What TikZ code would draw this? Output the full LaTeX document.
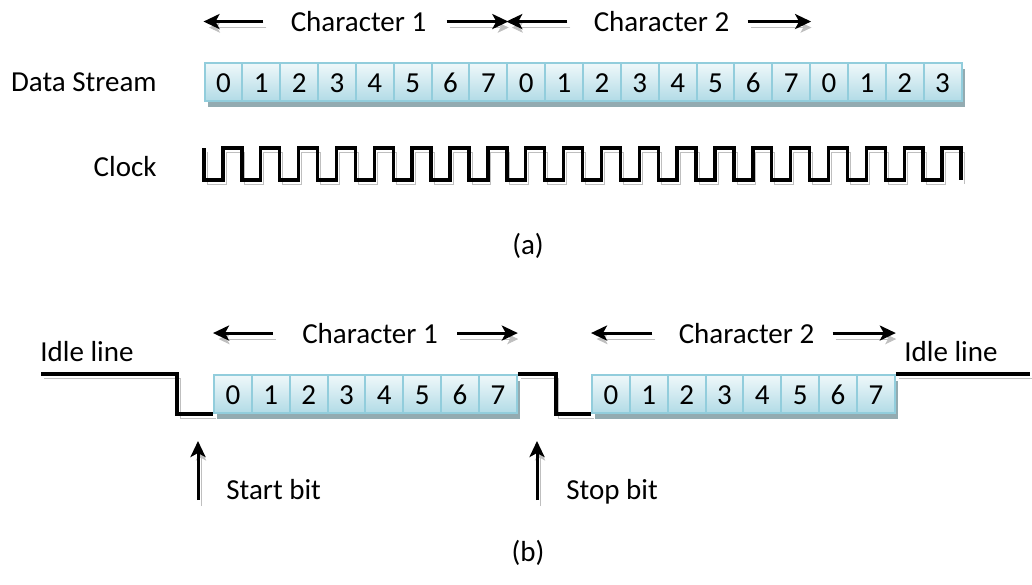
\documentclass[tikz,border=0pt]{standalone}
\usepackage{fontspec}
\setmainfont{Carlito}
\usepackage{tikz}
\usetikzlibrary{
  arrows.meta,
  positioning,
  shadows,
  calc
}
\definecolor{boxline}{HTML}{92CDDC}
\definecolor{boxtop}{HTML}{EFF8FA}
\definecolor{boxbot}{HTML}{B2DBE6}
\definecolor{boxshade}{HTML}{93ABB1}
\definecolor{waveshade}{HTML}{BFBFBF}
\newcommand\figfont{\fontsize{14.5}{17}\selectfont}
\tikzset{
  bitbox/.style={
    rectangle, draw=boxline, line width=1pt,
    top color=boxtop, bottom color=boxbot,
    minimum width=18.925pt, minimum height=19pt, inner sep=0pt,
    text height=10.9pt, text depth=0pt, anchor=north west,
    drop shadow={shadow xshift=1.5pt, shadow yshift=-3pt, fill=boxshade, opacity=1}
  },
  wave/.style={
    line width=1.7pt, black, line join=miter,
    preaction={draw=waveshade, transform canvas={shift={(1.5pt,-2pt)}}}
  },
  chararrow/.style={
    -{Stealth[length=8pt,width=7.5pt,inset=2pt]}, line width=1.5pt, black,
    preaction={draw=waveshade, transform canvas={shift={(1.5pt,-3pt)}}}
  },
  txt/.style={
    inner sep=0pt, font=\figfont
  },
}
\begin{document}
\begin{tikzpicture}[x=0.5pt,y=-0.5pt]
  \useasboundingbox (0,0) rectangle (1032,584);

  %% (a) data stream
  \foreach \i in {0,...,19} {
    \pgfmathtruncatemacro\bit{mod(\i,8)}
    \node[bitbox,font=\figfont] (ds\i) at (203.5+37.85*\i,62) {\bit};
  }
  \node[txt, anchor=base east] (dslbl) at (157,91) {Data Stream};
  \node[txt, anchor=base east] (clklbl) at (157,176) {Clock};

  \node[txt, anchor=base] (ch1a) at (358.5,31.5) {Character 1};
  \node[txt, anchor=base] (ch2a) at (661.5,31.5) {Character 2};
  \draw[chararrow] ([xshift=-13.5pt]ch1a.west) -- (ch1a.west -| ds0.west);
  \draw[chararrow] ([xshift=10pt]ch1a.east) -- (ch1a.east -| ds7.east);
  \draw[chararrow] ([xshift=-13pt]ch2a.west) -- (ch2a.west -| ds8.west);
  \draw[chararrow] ([xshift=9pt]ch2a.east) -- (ch2a.east -| ds15.east);

  %% clock, one pulse per bit
  \coordinate (clk0) at (204,148);
  \draw[wave] (clk0) -- ++(0,32)
    foreach \k in {1,...,20} { -- ++(18.925,0) -- ++(0,-32) -- ++(18.925,0) -- ++(0,32) };

  \node[txt] (capa) at (528,246) {(a)};

  %% (b) asynchronous line
  \foreach \i in {0,...,7} {
    \node[bitbox,font=\figfont] (fa\i) at (213+37.85*\i,374) {\i};
    \node[bitbox,font=\figfont] (fb\i) at (591+37.85*\i,374) {\i};
  }
  \coordinate (lineL) at (41,374);
  \coordinate (lineR) at (1030,374);
  \draw[wave] (lineL) -- ++(136,0) |- (fa0.south west);
  \draw[wave] (fa7.north east) -- ++(38,0) |- (fb0.south west);
  \draw[wave] (fb7.north east) -- (lineR);

  \node[txt, anchor=base west] (idleL) at (40,361) {Idle line};
  \node[txt, anchor=base west] (idleR) at (904,361) {Idle line};

  \node[txt, anchor=base] (ch1b) at (370,343) {Character 1};
  \node[txt, anchor=base] (ch2b) at (746.5,343) {Character 2};
  \draw[chararrow] ([xshift=-14.5pt]ch1b.west) -- (ch1b.west -| fa0.west);
  \draw[chararrow] ([xshift=9.5pt]ch1b.east) -- (ch1b.east -| fa7.east);
  \draw[chararrow] ([xshift=-13pt]ch2b.west) -- (ch2b.west -| fb0.west);
  \draw[chararrow] ([xshift=9pt]ch2b.east) -- (ch2b.east -| fb7.east);

  %% start and stop bit markers
  \coordinate (sbtail) at (198,500);
  \coordinate (sbtip) at (198,441);
  \coordinate (stail) at (537,500);
  \coordinate (stip) at (537,441);
  \draw[chararrow] (sbtail) -- (sbtip);
  \draw[chararrow] (stail) -- (stip);
  \node[txt, anchor=base west] (startlbl) at (226,499) {Start bit};
  \node[txt, anchor=base west] (stoplbl) at (566,499) {Stop bit};

  \node[txt] (capb) at (528,553) {(b)};
\end{tikzpicture}
\end{document}
